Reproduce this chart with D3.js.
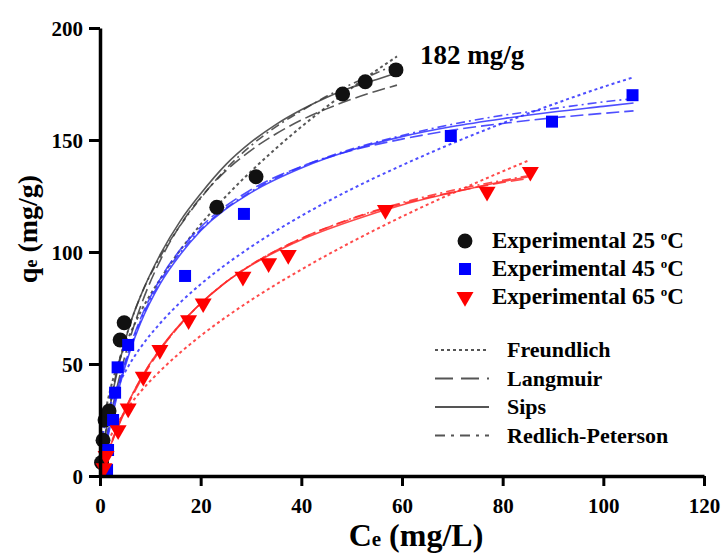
<!DOCTYPE html>
<meta charset="utf-8">
<script src="https://cdn.jsdelivr.net/npm/d3@7"></script>
<style>
  body { margin: 0; background: #fff; }
  svg text { font-family: "Liberation Serif", "Times New Roman", "DejaVu Serif", serif; font-weight: bold; }
</style>
<div id="chart"></div>
<script>
// ---- data ----
const ce25 = [0.3, 0.6, 1.0, 1.8, 4.0, 4.8, 23.2, 31.0, 48.2, 52.7, 58.8];
const qe25 = [6, 16, 25, 29, 60.7, 68.4, 120, 133.6, 170.5, 176, 181.3];
const ce45 = [1.4, 1.6, 2.6, 3.0, 3.5, 5.6, 16.9, 28.6, 69.7, 89.8, 105.8];
const qe45 = [2.7, 11.6, 25, 37.2, 48.5, 58.5, 89.3, 117, 151.8, 158.2, 170];
const ce65 = [0.8, 1.2, 3.6, 5.6, 8.6, 11.9, 17.6, 20.5, 28.4, 33.5, 37.4, 56.7, 76.9, 85.5];
const qe65 = [3.5, 9, 20.5, 30.2, 44.3, 56.3, 69.6, 77.1, 89, 95, 98.7, 118.8, 126.9, 135.8];

// model curves
const fitX25 = [0, 0.5, 1, 2, 4, 6, 8, 12, 16, 20, 25, 30, 35, 40, 45, 50, 55, 59];
const freund25 = [0, 19.9, 27.5, 38.1, 52.7, 63.5, 73, 88, 101, 112.3, 124.8, 136, 146.3, 155.9, 164.8, 173.2, 181.2, 187.3];
const langm25 = [0, 7, 13.4, 25.3, 45.4, 61.7, 75.3, 96.4, 112.2, 124.3, 136.2, 145.4, 152.8, 158.9, 163.9, 168.2, 171.9, 174.5];
const sips25 = [0, 8, 17, 31, 52, 68, 80, 99, 114, 126, 139, 149, 157, 163.5, 169, 173.5, 177, 180];
const rp25 = [0, 9, 18, 32, 53, 68, 80, 98, 112, 124, 137, 147.5, 156, 163, 169.5, 175, 180, 184];

const fitX45 = [0, 0.5, 1, 2, 4, 6, 8, 12, 16, 20, 30, 40, 50, 60, 70, 80, 90, 100, 106];
const freund45 = [0, 16.9, 22.9, 31.1, 42.1, 50.4, 57.2, 68.3, 77.6, 85.6, 102.3, 116.1, 128.1, 138.7, 148.5, 157.5, 165.9, 173.7, 178];
const langm45 = [0, 6.8, 13.1, 24.5, 43.3, 58, 70, 88.1, 101.2, 111.1, 127.8, 138.2, 145.3, 150.4, 154.4, 157.4, 159.9, 161.9, 163];
const sips45 = [0, 5, 11, 22, 41, 56, 68, 86, 99, 109.5, 126.5, 137.5, 145.5, 151.5, 156, 159.5, 162.5, 165, 166.5];
const rp45 = [0, 6, 12, 23.5, 42.5, 57, 69, 87, 100, 110, 127, 138, 146, 152, 157, 161, 164, 167, 168.5];

const fitX65 = [0, 0.5, 1, 2, 4, 6, 8, 12, 16, 20, 25, 30, 40, 50, 60, 70, 80, 85];
const freund65 = [0, 7.9, 11.7, 17.2, 25.4, 31.9, 37.5, 47, 55.2, 62.6, 70.9, 78.5, 92.2, 104.5, 115.8, 126.2, 136, 140.7];
const langm65 = [0, 3.4, 6.7, 12.9, 24, 33.7, 42.2, 56.3, 67.6, 76.9, 86.5, 94.2, 106.1, 114.8, 121.5, 126.7, 131, 132.8];
const sips65 = [0, 3, 6.5, 13, 24.5, 34.5, 43, 57, 68, 77, 86.5, 94, 105.5, 114, 121, 126.5, 131.5, 133.5];
const rp65 = [0, 3.6, 7, 13.5, 24.8, 34.5, 43, 56.8, 67.8, 77, 86.6, 94.3, 106, 115, 122, 127.5, 132, 134];

const xTicks = [0, 20, 40, 60, 80, 100, 120];
const yTicks = [0, 50, 100, 150, 200];
const seriesNames = ["Experimental 25 ", "Experimental 45 ", "Experimental 65 "];
const modelNames = ["Freundlich", "Langmuir", "Sips", "Redlich-Peterson"];

// ---- layout ----
const W = 723, H = 554;
const margin = {top: 28, right: 19, bottom: 78, left: 100};
const width = W - margin.left - margin.right,
      height = H - margin.top - margin.bottom;

const svg = d3.select("#chart").append("svg")
  .attr("width", W).attr("height", H);
const g = svg.append("g").attr("transform", `translate(${margin.left},${margin.top})`);

const x = d3.scaleLinear().domain([0, 120]).range([0, width]);
const y = d3.scaleLinear().domain([0, 200]).range([height, 0]);

const dashes = ["3,3", "13,5", null, "9,4,2,4"];
const groups = [
  {ce: ce25, qe: qe25, fx: fitX25, fits: [freund25, langm25, sips25, rp25], color: "#111", line: "#3a3a3a", shape: d3.symbolCircle, size: 175, rot: 0},
  {ce: ce45, qe: qe45, fx: fitX45, fits: [freund45, langm45, sips45, rp45], color: "#0000ff", line: "#2f2fff", shape: d3.symbolSquare, size: 144, rot: 0},
  {ce: ce65, qe: qe65, fx: fitX65, fits: [freund65, langm65, sips65, rp65], color: "#ff0000", line: "#ff2a2a", shape: d3.symbolTriangle, size: 125, rot: 180}
];

const line = d3.line().x(d => x(d[0])).y(d => y(d[1])).curve(d3.curveMonotoneX);

// fitted lines
groups.forEach(gr => {
  gr.fits.forEach((f, i) => {
    g.append("path")
      .datum(gr.fx.map((v, k) => [v, f[k]]))
      .attr("d", line)
      .attr("fill", "none")
      .attr("stroke", gr.line)
      .attr("stroke-opacity", 0.85)
      .attr("stroke-width", i == 0 ? 2 : 1.6)
      .attr("stroke-dasharray", dashes[i]);
  });
});

// experimental points
groups.forEach(gr => {
  g.append("g").selectAll("path")
    .data(gr.ce.map((v, k) => [v, gr.qe[k]]))
    .join("path")
      .attr("d", d3.symbol().type(gr.shape).size(gr.size))
      .attr("transform", d => `translate(${x(d[0])},${y(d[1])}) rotate(${gr.rot})`)
      .attr("fill", gr.color);
});

// axes
const xAxis = g.append("g")
  .attr("transform", `translate(0,${height})`)
  .call(d3.axisBottom(x).tickValues(xTicks).tickSize(10).tickPadding(12).tickSizeOuter(0));
const yAxis = g.append("g")
  .call(d3.axisLeft(y).tickValues(yTicks).tickSize(11).tickPadding(6).tickSizeOuter(0));
[xAxis, yAxis].forEach(a => {
  a.attr("font-family", null).attr("font-size", null);
  a.select(".domain").attr("stroke-width", 3.5);
  a.selectAll(".tick line").attr("stroke-width", 3);
  a.selectAll(".tick text")
    .style("font-size", "21px")
    .attr("fill", "#000");
});
yAxis.selectAll(".tick text").attr("dy", "0.35em");

// axis titles
const xt = svg.append("text")
  .attr("x", 416).attr("y", 546)
  .attr("text-anchor", "middle")
  .style("font-size", "32px");
xt.append("tspan").text("C");
xt.append("tspan").text("e").style("font-size", "21px");
xt.append("tspan").text(" (mg/L)");

const yt = svg.append("text")
  .attr("transform", "translate(37,229) rotate(-90)")
  .attr("text-anchor", "middle")
  .style("font-size", "28px");
yt.append("tspan").text("q");
yt.append("tspan").text("e").style("font-size", "18px");
yt.append("tspan").text(" (mg/g)");

// annotation
svg.append("text")
  .attr("x", 420).attr("y", 64)
  .style("font-size", "27px")
  .text("182 mg/g");

// legend: series
const leg = svg.append("g");
seriesNames.forEach((name, i) => {
  const ly = 241 + i * 28;
  leg.append("path")
    .attr("d", d3.symbol().type(groups[i].shape).size(groups[i].size))
    .attr("transform", `translate(465,${ly}) rotate(${groups[i].rot})`)
    .attr("fill", groups[i].color);
  const t = leg.append("text")
    .attr("x", 492).attr("y", ly + 7)
    .style("font-size", "23px");
  t.append("tspan").text(name);
  t.append("tspan").text("o").style("font-size", "13px").attr("dy", "-8");
  t.append("tspan").text("C").attr("dy", "8");
});

// legend: models
modelNames.forEach((name, i) => {
  const ly = 350 + i * 28.5;
  leg.append("line")
    .attr("x1", 435).attr("x2", 489)
    .attr("y1", ly).attr("y2", ly)
    .attr("stroke", "#555")
    .attr("stroke-width", 2)
    .attr("stroke-dasharray", i == 1 ? "18,8" : (i == 3 ? "10,6,3,6" : dashes[i]));
  leg.append("text")
    .attr("x", 507).attr("y", ly + 7)
    .style("font-size", "22px")
    .text(name);
});
</script>
